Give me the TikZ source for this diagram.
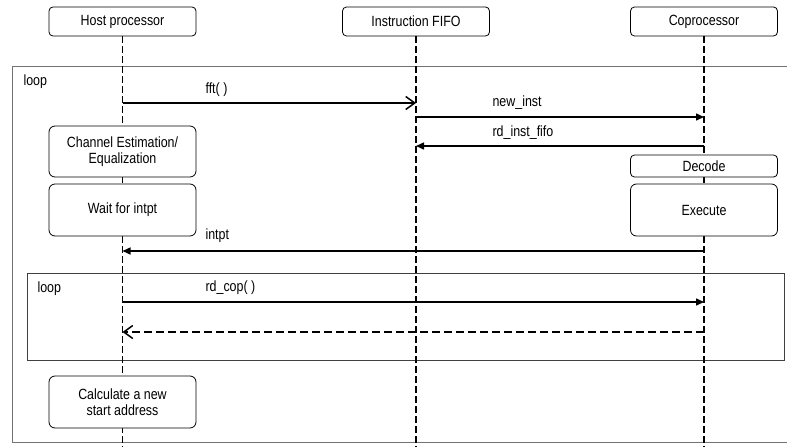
\documentclass[tikz,border=0pt]{standalone}
\usepackage{fontspec}
\setmainfont{Liberation Sans}[FakeStretch=0.84]
\usepackage{tikz}
\usetikzlibrary{arrows.meta,positioning}

\begin{document}
\begin{tikzpicture}[x=1pt,y=-1pt,
    every node/.style={font=\fontsize{14.8}{16.5}\selectfont},
    headbox/.style={draw, fill=white, rounded corners=4pt, line width=0.8pt,
        minimum width=147pt, minimum height=29pt, inner sep=0pt},
    actbox/.style={draw, fill=white, rounded corners=6pt, line width=0.8pt,
        minimum width=147pt, minimum height=52pt, inner sep=0pt, align=center},
    lifeline/.style={line width=1.6pt, dash pattern=on 7pt off 3pt},
    frame/.style={draw=black!55, line width=1pt},
    msg/.style={line width=1.5pt, -{Triangle[length=8pt,width=7pt]}},
    callmsg/.style={line width=1.5pt, -{Straight Barb[length=9pt,width=13pt]}},
    retmsg/.style={line width=1.5pt, dash pattern=on 8pt off 4pt,
        -{Straight Barb[length=9pt,width=13pt,sep=0pt]}}]

    \useasboundingbox (0,0) rectangle (787,447);

    % Loop frames
    \draw[frame] (792,66) -- (12,66) -- (12,442) -- (792,442);
    \draw[frame, draw=black!75] (27,273) rectangle (784,360);
    \node[anchor=west] (loopOuter) at (20,82) {loop};
    \node[anchor=west] (loopInner) at (34,289) {loop};

    % Participants
    \node[headbox] (host) at (122.5,21.5) {Host processor};
    \node[headbox] (fifo) at (416,21.5) {Instruction FIFO};
    \node[headbox] (cop) at (704,21.5) {Coprocessor};

    % Lifelines
    \draw[lifeline] (host.south) -- (host.south |- 0,447);
    \draw[lifeline] (fifo.south) -- (fifo.south |- 0,447);
    \draw[lifeline] (cop.south) -- (cop.south |- 0,447);

    % Activations
    \node[actbox, minimum height=51pt] (chanEst) at (122.5,151.5) {Channel Estimation/\\Equalization};
    \node[actbox] (waitInt) at (122.5,210) {Wait for intpt};
    \node[actbox, minimum height=22pt, rounded corners=4pt] (decode) at (704,166) {Decode};
    \node[actbox] (execute) at (704,210) {Execute};
    \node[actbox] (calcAddr) at (122.5,402) {Calculate a new\\start address};

    % Messages
    \draw[callmsg] (host.south |- 0,103) -- (fifo.south |- 0,103);
    \node[anchor=west] (fftLbl) at (202,90) {fft( )};

    \draw[msg] (fifo.south |- 0,117) -- (cop.south |- 0,117);
    \node[anchor=west] (newLbl) at (489,103) {new\_inst};

    \draw[msg] (cop.south |- 0,146) -- (fifo.south |- 0,146);
    \node[anchor=west] (rdLbl) at (489,133) {rd\_inst\_fifo};

    \draw[msg] (execute.south |- 0,251) -- (waitInt.south |- 0,251);
    \node[anchor=west] (intLbl) at (202,236) {intpt};

    \draw[msg] (host.south |- 0,302) -- (cop.south |- 0,302);
    \node[anchor=west] (copLbl) at (202,288) {rd\_cop( )};

    \draw[retmsg] (cop.south |- 0,332) -- (host.south |- 0,332);
\end{tikzpicture}
\end{document}
